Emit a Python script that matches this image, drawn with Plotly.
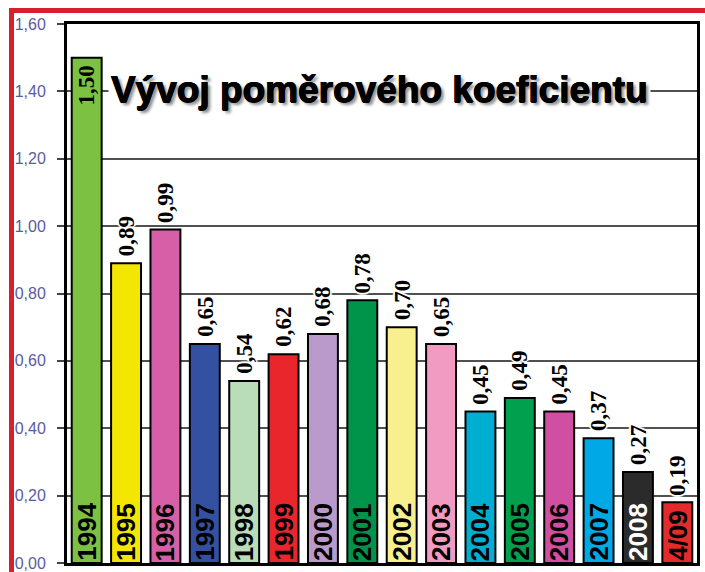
import plotly.graph_objects as go

years = ["1994", "1995", "1996", "1997", "1998", "1999", "2000", "2001",
         "2002", "2003", "2004", "2005", "2006", "2007", "2008", "4/09"]
values = [1.50, 0.89, 0.99, 0.65, 0.54, 0.62, 0.68, 0.78,
          0.70, 0.65, 0.45, 0.49, 0.45, 0.37, 0.27, 0.18]
value_labels = ["1,50", "0,89", "0,99", "0,65", "0,54", "0,62", "0,68", "0,78",
                "0,70", "0,65", "0,45", "0,49", "0,45", "0,37", "0,27", "0,19"]
bar_colors = ["#7cc142", "#f3e600", "#d65fa8", "#3450a0", "#b9ddb9", "#e8262b",
              "#b99acb", "#00944a", "#f8f08e", "#f19bc2", "#00aed1", "#00a04f",
              "#d04fa2", "#00a9e6", "#2b2b2b", "#e42a2b"]
year_label_colors = ["black"] * 14 + ["white", "black"]
title_text = "Vývoj poměrového koeficientu"
y_ticks = [0, 0.2, 0.4, 0.6, 0.8, 1.0, 1.2, 1.4, 1.6]

W, H = 705, 572
ML, MR, MT, MB = 67, 8, 24, 9
PW, PH = W - ML - MR, H - MT - MB

fig = go.Figure()
fig.add_trace(go.Bar(
    x=years, y=values,
    marker=dict(color=bar_colors, line=dict(color="black", width=2)),
    width=0.76,
    hoverinfo="skip",
))

halo = ("1px 0 0 white, -1px 0 0 white, 0 1px 0 white, 0 -1px 0 white, "
        "2px 0 1px white, -2px 0 1px white, 0 2px 1px white, 0 -2px 1px white")

annotations = []
for i, (yr, v, lab, tc) in enumerate(zip(years, values, value_labels, year_label_colors)):
    # year label inside bar, at the bottom
    annotations.append(dict(
        x=i, y=0, xref="x", yref="y", text="<b>%s</b>" % yr,
        textangle=-90, showarrow=False, yanchor="bottom", xanchor="center",
        yshift=0,
        font=dict(family="Liberation Sans, Arial", size=26, color=tc),
    ))
    inside = v > 1.4
    annotations.append(dict(
        x=i, y=v, xref="x", yref="y", text="<b>%s</b>" % lab,
        textangle=-90, showarrow=False,
        yanchor="top" if inside else "bottom", xanchor="center",
        yshift=-6 if inside else 5,
        font=dict(family="Liberation Serif, Times New Roman", size=23,
                  color="black", shadow="none" if inside else halo),
    ))

annotations.append(dict(
    x=0.496, y=1.40, xref="paper", yref="y", text="<b>%s</b>" % title_text,
    showarrow=False, xanchor="center", yanchor="middle", yshift=2,
    bgcolor="white", borderpad=2,
    font=dict(family="Liberation Sans, Arial", size=37, color="black",
              shadow="0.6px 0 0 black, -0.6px 0 0 black, 0 0.6px 0 black, "
                     "3px 3px 3px rgba(0,0,0,0.45)"),
))

shapes = [
    # red frame (top and left)
    dict(type="line", xref="paper", yref="paper",
         x0=(11.5 - ML) / PW, x1=1 + MR / PW + 0.01,
         y0=1 + (MT - 10.5) / PH, y1=1 + (MT - 10.5) / PH,
         line=dict(color="#d6202e", width=5)),
    dict(type="line", xref="paper", yref="paper",
         x0=(11.5 - ML) / PW, x1=(11.5 - ML) / PW,
         y0=1 + (MT - 8) / PH, y1=-MB / PH - 0.01,
         line=dict(color="#d6202e", width=5)),
]

fig.update_layout(
    width=W, height=H,
    margin=dict(l=ML, r=MR, t=MT, b=MB, pad=0, autoexpand=False),
    paper_bgcolor="white", plot_bgcolor="white",
    separators=", ",
    showlegend=False,
    bargap=0.24,
    annotations=annotations,
    shapes=shapes,
    font=dict(family="Liberation Sans, Arial"),
)
fig.update_xaxes(
    type="category", showticklabels=False, ticks="",
    showline=True, linecolor="black", linewidth=3, mirror=True,
    showgrid=False, zeroline=False, range=[-0.5, 15.5], automargin=False,
)
fig.update_yaxes(
    range=[0, 1.6], tickvals=y_ticks, tickformat=".2f",
    showline=True, linecolor="black", linewidth=3, mirror=True,
    showgrid=True, gridcolor="#505050", gridwidth=1.5,
    zeroline=False, automargin=False,
    ticks="outside", ticklen=7, tickcolor="#444", tickwidth=1.5,
    ticklabelstandoff=8,
    tickfont=dict(family="Liberation Sans, Arial", size=16, color="#5a5ca0"),
)

fig.write_html("out.html", config={"displayModeBar": False},
               post_script="document.body.style.margin='0';")
